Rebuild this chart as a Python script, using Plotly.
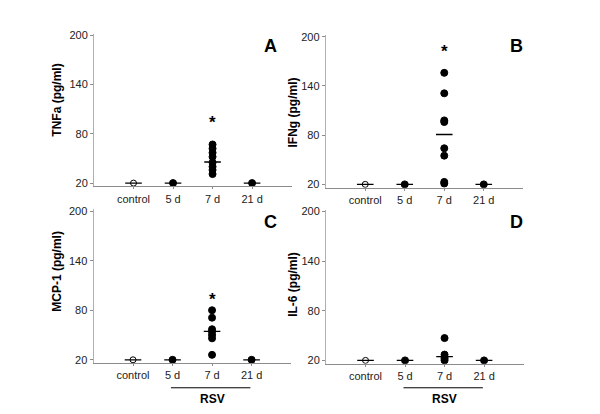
import plotly.graph_objects as go

categories = ["control", "5 d", "7 d", "21 d"]
y_ticks = [20, 80, 140, 200]

# values per panel, per group (control, 5 d, 7 d, 21 d)
tnf_values = [[20], [20], [67, 62, 57, 52, 45, 40, 36, 31], [20]]
ifn_values = [[20], [20], [156, 131, 98, 96, 64, 55, 23, 21], [20]]
mcp_values = [[20], [20], [80, 71, 57, 54, 50, 46, 26], [20]]
il6_values = [[20], [20], [47, 27, 24, 22, 20], [20]]

tnf_median = [20, 20, 45.7, 20]
ifn_median = [20, 20, 80.8, 20]
mcp_median = [20, 20, 54.5, 20]
il6_median = [20, 20, 24.5, 20]

star_y = [94, 182, 93, None]
titles = ["TNFa (pg/ml)", "IFNg (pg/ml)", "MCP-1 (pg/ml)", "IL-6 (pg/ml)"]
letters = ["A", "B", "C", "D"]
panels = [tnf_values, ifn_values, mcp_values, il6_values]
medians = [tnf_median, ifn_median, mcp_median, il6_median]

OFF = 8  # page body margin
W, H = 600 - 2 * OFF, 414 - 2 * OFF
FONT = "Arial, Liberation Sans, sans-serif"
# pixel layout (in page coordinates) of the 4 plot areas: (left, right, top, bottom)
boxes = [(94, 291.6, 30, 185.5), (325.7, 523.3, 31.5, 186.8),
         (93.5, 291.1, 209, 365.4), (326, 523.6, 209.5, 366)]
title_pos = [(56.7, 97.5), (293.3, 110), (56.7, 271.7), (292.7, 285)]
letter_pos = [(270, 43), (516.7, 43), (270, 222), (516.7, 222)]


def px_x(v):
    return (v - OFF) / W


def px_y(v):
    return 1 - (v - OFF) / H


fig = go.Figure()
for i, (vals, meds) in enumerate(zip(panels, medians)):
    xa = "x" if i == 0 else f"x{i+1}"
    ya = "y" if i == 0 else f"y{i+1}"
    # median bars
    for j, m in enumerate(meds):
        fig.add_trace(go.Scatter(x=[j - 0.21, j + 0.21], y=[m, m], mode="lines",
                                 line=dict(color="black", width=1.3),
                                 xaxis=xa, yaxis=ya, showlegend=False, hoverinfo="skip"))
    for j, grp in enumerate(vals):
        open_c = (j == 0)
        fig.add_trace(go.Scatter(
            x=[j] * len(grp), y=grp, mode="markers",
            marker=dict(symbol="circle-open" if open_c else "circle",
                        size=6 if open_c else 7, color="black",
                        line=dict(color="black", width=1)),
            xaxis=xa, yaxis=ya, showlegend=False))
    l, r, t, b = boxes[i]
    xk = "xaxis" if i == 0 else f"xaxis{i+1}"
    yk = "yaxis" if i == 0 else f"yaxis{i+1}"
    fig.layout[xk] = dict(domain=[px_x(l), px_x(r)], range=[-1, 4], anchor=ya,
                          tickvals=list(range(len(categories))), ticktext=categories,
                          showgrid=False, zeroline=False, showline=True,
                          linecolor="#8c8c8c", linewidth=1, ticks="outside", ticklen=2,
                          tickcolor="#8c8c8c",
                          tickfont=dict(family=FONT, size=11, color="#222"))
    fig.layout[yk] = dict(domain=[px_y(b), px_y(t)], range=[16, 202], anchor=xa,
                          tickvals=y_ticks, showgrid=False, zeroline=False, showline=True,
                          linecolor="#b0b0b0", linewidth=1, ticks="outside", ticklen=3,
                          tickcolor="#8c8c8c",
                          tickfont=dict(family=FONT, size=11, color="#222"))
    tx, ty = title_pos[i]
    fig.add_annotation(x=px_x(tx), y=px_y(ty), xref="paper", yref="paper", text=titles[i],
                       textangle=-90, showarrow=False, xanchor="center", yanchor="middle",
                       font=dict(family=FONT, size=12, color="black", weight="bold"))
    if star_y[i] is not None:
        fig.add_annotation(x=2, y=star_y[i], xref=xa, yref=ya, text="*", showarrow=False,
                           xanchor="center", yanchor="middle",
                           font=dict(family=FONT, size=17, color="black", weight="bold"))
    lx, ly = letter_pos[i]
    fig.add_annotation(x=px_x(lx), y=px_y(ly), xref="paper", yref="paper",
                       text=letters[i], showarrow=False, xanchor="center", yanchor="middle",
                       font=dict(family=FONT, size=18, color="black", weight="bold"))

# RSV group bracket under bottom panels
for i in (2, 3):
    xa = f"x{i+1}"
    fig.add_shape(type="line", xref=xa, yref="paper", x0=categories.index("5 d") - 0.04,
                  x1=categories.index("21 d") - 0.03, y0=px_y(390.5), y1=px_y(390.5),
                  line=dict(color="black", width=1))
    fig.add_annotation(x=categories.index("7 d"), y=px_y(401.7), xref=xa, yref="paper",
                       text="RSV", showarrow=False, xanchor="center", yanchor="middle",
                       font=dict(family=FONT, size=12, color="black", weight="bold"))

fig.update_layout(width=W, height=H, margin=dict(l=0, r=0, t=0, b=0),
                  paper_bgcolor="white", plot_bgcolor="white")
fig.write_html("out.html")
